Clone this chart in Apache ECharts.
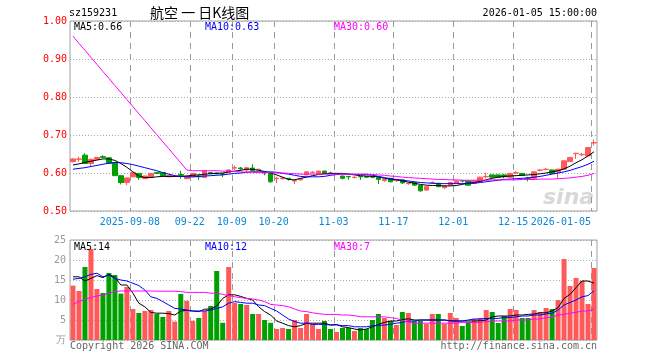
<!DOCTYPE html>
<html><head><meta charset="utf-8">
<script src="https://cdn.jsdelivr.net/npm/echarts@6/dist/echarts.min.js"></script>
<style>html,body{margin:0;padding:0;background:#fff}#c{width:660px;height:360px}</style>
</head><body><div id="c"></div>
<script>
// ---------- DATA ----------
const dates = [
'2025-08-25','2025-08-26','2025-08-27','2025-08-28','2025-08-29',
'2025-09-01','2025-09-02','2025-09-03','2025-09-04','2025-09-05',
'2025-09-08','2025-09-09','2025-09-10','2025-09-11','2025-09-12',
'2025-09-15','2025-09-16','2025-09-17','2025-09-18','2025-09-19',
'2025-09-22','2025-09-23','2025-09-24','2025-09-25','2025-09-26',
'2025-09-29','2025-09-30','2025-10-09','2025-10-10',
'2025-10-13','2025-10-14','2025-10-15','2025-10-16','2025-10-17',
'2025-10-20','2025-10-21','2025-10-22','2025-10-23','2025-10-24',
'2025-10-27','2025-10-28','2025-10-29','2025-10-30','2025-10-31',
'2025-11-03','2025-11-04','2025-11-05','2025-11-06','2025-11-07',
'2025-11-10','2025-11-11','2025-11-12','2025-11-13','2025-11-14',
'2025-11-17','2025-11-18','2025-11-19','2025-11-20','2025-11-21',
'2025-11-24','2025-11-25','2025-11-26','2025-11-27','2025-11-28',
'2025-12-01','2025-12-02','2025-12-03','2025-12-04','2025-12-05',
'2025-12-08','2025-12-09','2025-12-10','2025-12-11','2025-12-12',
'2025-12-15','2025-12-16','2025-12-17','2025-12-18','2025-12-19',
'2025-12-22','2025-12-23','2025-12-24','2025-12-25','2025-12-26',
'2025-12-29','2025-12-30','2025-12-31','2026-01-05'];

const labelDates = ['2025-09-08','2025-09-22','2025-10-09','2025-10-20','2025-11-03','2025-11-17','2025-12-01','2025-12-15','2026-01-05'];

const open = [0.630,0.636,0.647,0.625,0.636,0.643,0.640,0.627,0.593,0.575,
0.590,0.599,0.585,0.589,0.601,0.601,0.590,0.591,0.596,0.585,
0.590,0.592,0.588,0.601,0.600,0.598,0.601,0.613,0.613,0.608,
0.613,0.608,0.601,0.601,0.585,0.585,0.586,0.579,0.582,0.595,
0.601,0.599,0.605,0.600,0.598,0.592,0.591,0.588,0.591,0.591,
0.590,0.588,0.580,0.586,0.580,0.582,0.572,0.575,0.567,0.555,
0.574,0.573,0.561,0.568,0.573,0.580,0.579,0.573,0.577,0.590,
0.595,0.595,0.595,0.589,0.600,0.599,0.587,0.586,0.607,0.609,
0.608,0.603,0.610,0.630,0.651,0.648,0.645,0.679];

const close = [0.637,0.637,0.625,0.636,0.641,0.641,0.625,0.593,0.575,0.587,
0.601,0.588,0.592,0.599,0.599,0.593,0.594,0.592,0.594,0.592,
0.599,0.590,0.606,0.599,0.598,0.596,0.608,0.614,0.611,0.614,
0.606,0.610,0.600,0.577,0.586,0.587,0.584,0.580,0.585,0.603,
0.602,0.605,0.599,0.599,0.599,0.586,0.590,0.589,0.590,0.589,
0.589,0.583,0.583,0.577,0.581,0.574,0.573,0.568,0.553,0.564,
0.575,0.564,0.566,0.575,0.579,0.579,0.568,0.579,0.589,0.591,
0.589,0.589,0.590,0.599,0.601,0.594,0.586,0.603,0.608,0.610,
0.599,0.610,0.632,0.641,0.652,0.649,0.667,0.680];

const low = [0.628,0.629,0.624,0.617,0.635,0.639,0.624,0.592,0.570,0.568,
0.589,0.582,0.584,0.588,0.597,0.592,0.589,0.589,0.585,0.584,
0.589,0.582,0.587,0.597,0.596,0.589,0.600,0.608,0.607,0.601,
0.605,0.606,0.594,0.574,0.574,0.582,0.580,0.571,0.580,0.594,
0.599,0.598,0.598,0.597,0.596,0.583,0.582,0.586,0.582,0.587,
0.586,0.571,0.577,0.575,0.576,0.571,0.569,0.566,0.551,0.553,
0.571,0.563,0.559,0.567,0.572,0.575,0.567,0.572,0.576,0.586,
0.588,0.588,0.586,0.588,0.598,0.593,0.578,0.585,0.604,0.607,
0.597,0.586,0.609,0.629,0.637,0.644,0.644,0.672];

const high = [0.639,0.643,0.652,0.638,0.642,0.647,0.641,0.628,0.594,0.588,
0.602,0.600,0.593,0.600,0.603,0.602,0.595,0.594,0.606,0.593,
0.600,0.597,0.607,0.603,0.601,0.599,0.609,0.620,0.616,0.615,
0.623,0.611,0.602,0.602,0.590,0.590,0.587,0.583,0.586,0.604,
0.605,0.606,0.606,0.603,0.600,0.593,0.592,0.591,0.592,0.592,
0.591,0.589,0.584,0.587,0.584,0.583,0.576,0.576,0.568,0.565,
0.578,0.574,0.567,0.576,0.580,0.582,0.580,0.580,0.590,0.601,
0.596,0.596,0.598,0.600,0.605,0.600,0.590,0.604,0.611,0.613,
0.609,0.611,0.633,0.642,0.653,0.653,0.668,0.688];

const ma5 = [0.621,0.624,0.628,0.631,0.634,0.637,0.637,0.633,0.625,0.615,
0.603,0.592,0.588,0.588,0.590,0.591,0.591,0.591,0.591,0.592,
0.594,0.595,0.597,0.598,0.599,0.600,0.603,0.605,0.607,0.610,
0.610,0.607,0.604,0.600,0.595,0.589,0.583,0.582,0.586,0.589,
0.593,0.596,0.598,0.599,0.599,0.599,0.597,0.595,0.593,0.592,
0.591,0.590,0.586,0.584,0.582,0.579,0.576,0.573,0.570,0.568,
0.567,0.567,0.566,0.566,0.567,0.570,0.573,0.575,0.578,0.582,
0.586,0.589,0.591,0.592,0.593,0.594,0.595,0.596,0.598,0.600,
0.603,0.606,0.611,0.618,0.627,0.635,0.645,0.656];

const ma10 = [0.610,0.612,0.614,0.617,0.620,0.623,0.626,0.628,0.627,0.625,
0.622,0.618,0.614,0.610,0.606,0.601,0.597,0.593,0.591,0.590,
0.590,0.591,0.592,0.593,0.594,0.595,0.597,0.599,0.600,0.602,
0.603,0.603,0.603,0.603,0.602,0.599,0.597,0.594,0.591,0.590,
0.590,0.590,0.591,0.594,0.596,0.597,0.597,0.596,0.596,0.596,
0.594,0.591,0.588,0.585,0.583,0.581,0.579,0.577,0.575,0.574,
0.573,0.572,0.572,0.572,0.572,0.572,0.573,0.573,0.575,0.577,
0.579,0.581,0.583,0.584,0.585,0.586,0.587,0.589,0.591,0.594,
0.597,0.600,0.603,0.607,0.612,0.617,0.623,0.631];

const ma30 = [0.960,0.941,0.923,0.904,0.886,0.867,0.849,0.830,0.812,0.793,
0.775,0.756,0.738,0.719,0.701,0.682,0.664,0.645,0.627,0.608,
0.606,0.606,0.606,0.606,0.606,0.605,0.605,0.604,0.603,0.602,
0.602,0.601,0.601,0.601,0.600,0.600,0.599,0.598,0.597,0.597,
0.597,0.597,0.597,0.597,0.597,0.597,0.597,0.597,0.597,0.597,
0.596,0.595,0.594,0.592,0.591,0.589,0.588,0.587,0.586,0.585,
0.584,0.583,0.583,0.582,0.582,0.581,0.581,0.581,0.581,0.581,
0.582,0.582,0.582,0.582,0.582,0.583,0.583,0.583,0.584,0.584,
0.584,0.585,0.586,0.587,0.589,0.591,0.594,0.599];

const volume = [13.6,12.25,18.25,22.75,12.75,11.75,16.75,16.25,11.6,13.25,
7.75,6.75,7.25,7.5,6.5,5.75,7.25,4.6,11.5,9.8,
4.8,5.5,7.25,8.5,17.25,4.3,18.25,9.3,9.0,8.75,
6.5,6.5,5.0,4.3,2.75,3.0,2.75,5.0,3.0,6.5,
4.0,2.75,4.75,2.75,2.0,3.0,3.0,2.25,3.0,2.75,
5.0,6.5,5.5,4.75,3.75,7.0,6.75,4.75,4.75,4.0,
6.5,6.5,4.0,6.75,5.5,3.5,4.5,5.25,5.5,7.5,
7.0,4.25,6.0,7.75,7.5,5.5,5.5,7.5,7.0,8.0,
7.75,10.0,20.25,13.5,15.5,14.8,9.0,18.0];

const vma5 = [15.8,15.8,14.75,15.4,16.1,15.6,16.4,15.6,13.75,13.75,
11.7,9.2,8.3,6.9,6.7,6.7,6.6,6.25,7.25,7.4,
7.25,7.1,7.7,7.75,8.5,10.4,11.3,11.3,10.9,10.4,
10.0,8.3,7.1,6.25,4.75,4.2,3.6,3.3,3.6,4.2,
4.2,4.2,4.2,3.75,3.9,3.3,3.1,2.75,2.5,2.75,
3.3,3.9,4.4,4.75,4.75,5.1,5.3,5.0,5.0,5.0,
5.0,5.0,5.0,4.8,4.75,4.75,4.75,4.75,4.8,5.0,
5.8,6.0,6.0,6.0,6.25,6.25,6.4,6.5,6.8,6.8,
7.25,8.1,10.4,11.4,13.1,14.75,14.75,14.2];

const vma10 = [15.2,15.4,15.8,16.4,16.7,15.8,16.25,15.4,15.0,14.75,
14.2,13.6,12.5,10.8,10.4,9.6,8.75,7.9,7.75,7.5,
7.25,7.25,7.25,7.5,7.9,8.3,9.2,9.6,9.4,9.2,
9.2,8.75,8.6,7.9,7.25,6.25,5.25,4.6,4.2,4.2,
3.9,3.9,3.9,3.75,3.75,3.6,3.6,3.3,3.3,3.3,
3.6,3.6,3.75,3.9,4.2,4.4,4.75,4.75,5.0,5.0,
5.0,5.0,5.0,4.8,4.75,4.75,5.0,5.25,5.25,5.4,
5.4,5.4,5.6,5.6,5.8,6.0,6.0,6.25,6.25,6.5,
6.7,7.5,8.75,9.4,10.0,10.8,11.1,12.3];

const vma30 = [8.9,9.6,10.25,10.6,11.0,11.25,11.7,12.1,12.25,12.25,
12.25,12.25,12.25,12.25,12.2,12.2,12.2,12.2,12.1,11.9,
11.9,11.9,11.9,11.7,11.7,11.4,11.1,10.8,10.6,10.4,
10.25,10.0,9.6,8.9,8.75,8.6,8.3,7.75,7.25,7.1,
6.8,6.6,6.4,6.4,6.4,6.25,6.25,6.1,5.8,5.8,
5.8,5.8,5.8,5.6,5.4,4.9,4.5,4.2,4.2,4.2,
4.2,4.2,4.2,4.2,4.2,4.4,4.4,4.4,4.4,4.6,
4.75,4.75,4.75,4.75,5.0,5.0,5.0,5.25,5.25,5.6,
5.7,6.25,6.4,6.7,6.9,7.25,7.25,7.75];

const priceTicks = [0.5, 1.0, 0.1];
const volTicks = [0, 25, 5];

// ---------- CHART ----------
const RED = '#ff5a5a', GREEN = '#00a000';
const MONO = 'DejaVu Sans Mono';
const lastIdx = dates.length - 1;
const isTick = (i) => labelDates.indexOf(dates[i]) >= 0;

const candleData = dates.map((d, i) => [open[i], close[i], low[i], high[i]]);
const volData = volume.map((v, i) => ({
  value: v,
  itemStyle: { color: close[i] >= open[i] ? RED : GREEN }
}));

const xCats = dates.map((d, i) => i === lastIdx
  ? { value: d, textStyle: { align: 'right', padding: [0, 3, 0, 0] } }
  : d);

const hSplit = { show: true, lineStyle: { color: '#aaa', type: [1, 2], width: 1 } };

// custom series drawing a dashed guide on the left edge of each labelled day's band
const guideSeries = (axisIdx, yTop, yBottom) => ({
  type: 'custom', xAxisIndex: axisIdx, yAxisIndex: axisIdx, z: 2, silent: true, clip: false,
  data: labelDates.map((d) => [d]),
  renderItem: (params, api) => {
    const c = api.coord([api.value(0), yTop]);
    const b = api.coord([api.value(0), yBottom]);
    const half = api.size([1, 0])[0] / 2;
    const x = Math.round(c[0] - half) + 0.5;
    return {
      type: 'line',
      shape: { x1: x, y1: c[1], x2: x, y2: b[1] },
      style: { stroke: '#999999', lineWidth: 1, lineDash: [6, 5], fill: null }
    };
  }
});

const chart = echarts.init(document.getElementById('c'), null, { renderer: 'canvas' });
const txt = (text, x, y, fill, align, font) => ({
  type: 'text', x: x, y: y, silent: true, z: 100,
  style: { text: text, fill: fill, font: font || ('10px "' + MONO + '"'), textAlign: align || 'left', textVerticalAlign: 'middle' }
});

chart.setOption({
  animation: false,
  backgroundColor: '#fff',
  grid: [
    { left: 70, right: 63, top: 21, height: 190, show: true, borderColor: '#a0a0a0', borderWidth: 1, backgroundColor: 'transparent' },
    { left: 70, right: 63, top: 240, height: 100, show: true, borderColor: '#a0a0a0', borderWidth: 1, backgroundColor: 'transparent' }
  ],
  xAxis: [
    { type: 'category', gridIndex: 0, data: xCats, boundaryGap: true,
      axisLine: { show: false }, axisTick: { show: false },
      axisLabel: { interval: (i) => isTick(i), color: '#0a88d8', fontFamily: MONO, fontSize: 10, margin: 6,
        padding: [0, 6, 0, 0],
        formatter: (v) => (v === labelDates[0] || v === labelDates[labelDates.length - 1]) ? v : v.slice(5) },
      splitLine: { show: false } },
    { type: 'category', gridIndex: 1, data: dates, boundaryGap: true,
      axisLine: { show: false }, axisTick: { show: false }, axisLabel: { show: false },
      splitLine: { show: false } }
  ],
  yAxis: [
    { type: 'value', gridIndex: 0, min: priceTicks[0], max: priceTicks[1], interval: priceTicks[2],
      axisLine: { show: false }, axisTick: { show: false },
      axisLabel: { color: '#ff0000', fontFamily: MONO, fontSize: 10, margin: 3, formatter: (v) => v.toFixed(2) },
      splitLine: hSplit },
    { type: 'value', gridIndex: 1, min: volTicks[0], max: volTicks[1], interval: volTicks[2],
      axisLine: { show: false }, axisTick: { show: false },
      axisLabel: { color: '#999', fontFamily: MONO, fontSize: 10, margin: 4,
        formatter: (v) => v === 0 ? '万' : String(v) },
      splitLine: hSplit }
  ],
  series: [
    guideSeries(0, priceTicks[1], priceTicks[0]),
    guideSeries(1, volTicks[1], volTicks[0]),
    { type: 'candlestick', xAxisIndex: 0, yAxisIndex: 0, data: candleData, barWidth: 5, z: 3,
      itemStyle: { color: RED, color0: GREEN, borderColor: RED, borderColor0: GREEN, borderWidth: 1 } },
    { type: 'line', xAxisIndex: 0, yAxisIndex: 0, data: ma5, symbol: 'none', z: 4, lineStyle: { color: '#000', width: 1 } },
    { type: 'line', xAxisIndex: 0, yAxisIndex: 0, data: ma10, symbol: 'none', z: 4, lineStyle: { color: '#0000ff', width: 1 } },
    { type: 'line', xAxisIndex: 0, yAxisIndex: 0, data: ma30, symbol: 'none', z: 4, lineStyle: { color: '#ff00ff', width: 1 } },
    { type: 'bar', xAxisIndex: 1, yAxisIndex: 1, data: volData, barWidth: 5, z: 3 },
    { type: 'line', xAxisIndex: 1, yAxisIndex: 1, data: vma5, symbol: 'none', z: 4, lineStyle: { color: '#000', width: 1 } },
    { type: 'line', xAxisIndex: 1, yAxisIndex: 1, data: vma10, symbol: 'none', z: 4, lineStyle: { color: '#0000ff', width: 1 } },
    { type: 'line', xAxisIndex: 1, yAxisIndex: 1, data: vma30, symbol: 'none', z: 4, lineStyle: { color: '#ff00ff', width: 1 } }
  ],
  graphic: { elements: [
    txt('sz159231', 69, 13, '#000'),
    txt('航空 一 日K线图', 150, 13, '#000', 'left', '14px "Noto Sans CJK SC"'),
    txt('2026-01-05 15:00:00', 597, 13, '#000', 'right'),
    txt('MA5:' + ma5[lastIdx].toFixed(2), 74, 27, '#000'),
    txt('MA10:' + ma10[lastIdx].toFixed(2), 205, 27, '#0000ff'),
    txt('MA30:' + ma30[lastIdx].toFixed(2), 334, 27, '#ff00ff'),
    txt('MA5:' + Math.round(vma5[lastIdx]), 74, 247, '#000'),
    txt('MA10:' + Math.round(vma10[lastIdx]), 205, 247, '#0000ff'),
    txt('MA30:' + Math.floor(vma30[lastIdx]), 334, 247, '#ff00ff'),
    txt('Copyright 2026 SINA.COM', 70, 346, '#666'),
    txt('http://finance.sina.com.cn', 597, 346, '#666', 'right'),
    { type: 'text', x: 543, y: 198, silent: true, z: 1,
      style: { text: 'sina', fill: '#d8d8d8', font: 'italic bold 22px "DejaVu Sans"', textAlign: 'left', textVerticalAlign: 'middle' } }
  ] }
});
</script></body></html>
